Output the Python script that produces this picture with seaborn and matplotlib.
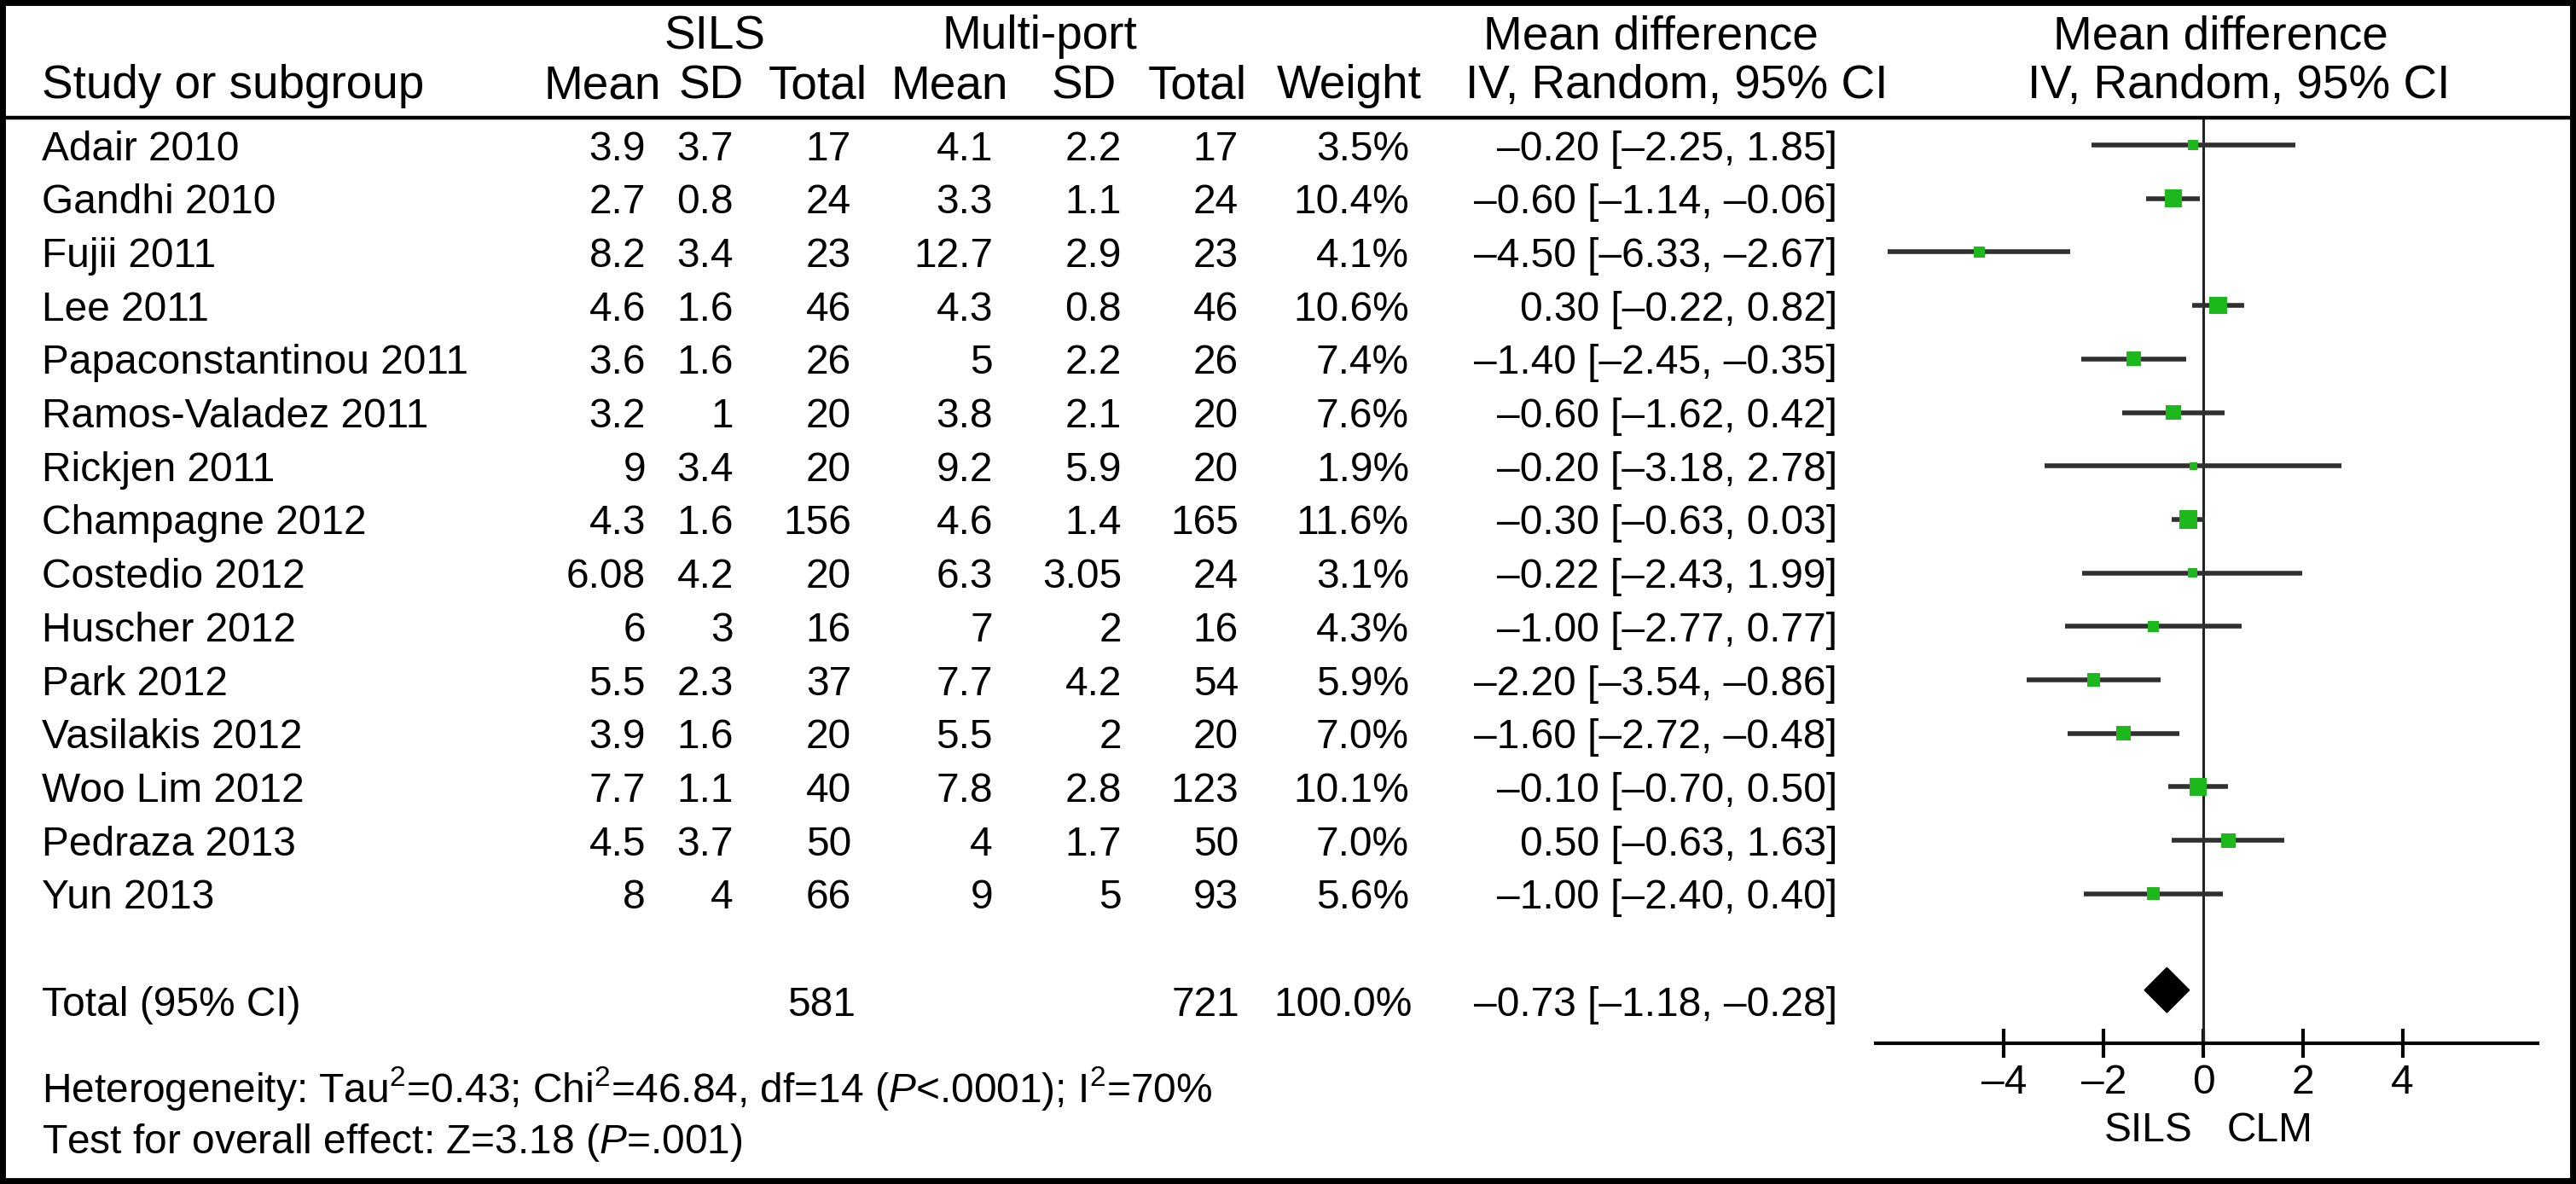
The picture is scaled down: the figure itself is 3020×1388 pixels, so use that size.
import matplotlib
matplotlib.use("Agg")
import matplotlib.pyplot as plt
from matplotlib import transforms
from matplotlib.patches import Rectangle, Polygon
from matplotlib.lines import Line2D
import numpy as np
import pandas as pd
import seaborn as sns

# ---------------- data ----------------
studies = ["Adair 2010", "Gandhi 2010", "Fujii 2011", "Lee 2011",
           "Papaconstantinou 2011", "Ramos-Valadez 2011", "Rickjen 2011",
           "Champagne 2012", "Costedio 2012", "Huscher 2012", "Park 2012",
           "Vasilakis 2012", "Woo Lim 2012", "Pedraza 2013", "Yun 2013"]
sils_mean = [3.9, 2.7, 8.2, 4.6, 3.6, 3.2, 9, 4.3, 6.08, 6, 5.5, 3.9, 7.7, 4.5, 8]
sils_sd = [3.7, 0.8, 3.4, 1.6, 1.6, 1, 3.4, 1.6, 4.2, 3, 2.3, 1.6, 1.1, 3.7, 4]
sils_n = [17, 24, 23, 46, 26, 20, 20, 156, 20, 16, 37, 20, 40, 50, 66]
multi_mean = [4.1, 3.3, 12.7, 4.3, 5, 3.8, 9.2, 4.6, 6.3, 7, 7.7, 5.5, 7.8, 4, 9]
multi_sd = [2.2, 1.1, 2.9, 0.8, 2.2, 2.1, 5.9, 1.4, 3.05, 2, 4.2, 2, 2.8, 1.7, 5]
multi_n = [17, 24, 23, 46, 26, 20, 20, 165, 24, 16, 54, 20, 123, 50, 93]
weight = [3.5, 10.4, 4.1, 10.6, 7.4, 7.6, 1.9, 11.6, 3.1, 4.3, 5.9, 7.0, 10.1, 7.0, 5.6]
md = [-0.20, -0.60, -4.50, 0.30, -1.40, -0.60, -0.20, -0.30, -0.22, -1.00,
      -2.20, -1.60, -0.10, 0.50, -1.00]
ci_lo = [-2.25, -1.14, -6.33, -0.22, -2.45, -1.62, -3.18, -0.63, -2.43, -2.77,
         -3.54, -2.72, -0.70, -0.63, -2.40]
ci_hi = [1.85, -0.06, -2.67, 0.82, -0.35, 0.42, 2.78, 0.03, 1.99, 0.77,
         -0.86, -0.48, 0.50, 1.63, 0.40]
total_sils, total_multi, total_weight = 581, 721, 100.0
total_md, total_lo, total_hi = -0.73, -1.18, -0.28
xticks = [-4, -2, 0, 2, 4]

W, H = 3020, 1388
sns.set_style("white")
plt.rcParams["font.family"] = ["Liberation Sans", "DejaVu Sans"]
plt.rcParams["mathtext.fontset"] = "custom"
plt.rcParams["mathtext.rm"] = "Liberation Sans"
plt.rcParams["mathtext.it"] = "Liberation Sans:italic"
FS = 34.5    # body rows
HFS = 39.5   # column headings
DASH = "\u2013"


def fmt(v):
    return f"{v:.2f}".replace("-", DASH)


df = pd.DataFrame({"study": studies, "md": md, "lo": ci_lo, "hi": ci_hi,
                   "weight": weight, "row": np.arange(len(studies))})

fig = plt.figure(figsize=(W / 100, H / 100), dpi=100)
fig.patch.set_facecolor("white")

# forest axes placed in pixel terms
row0, dy = 170, 62.7
ax_l, ax_r, ax_t, ax_b = 2199, 2975, 138, 1223
ax = fig.add_axes([ax_l / W, 1 - ax_b / H, (ax_r - ax_l) / W, (ax_b - ax_t) / H])
unit = 58.4
zero = 2583
ax.set_xlim((ax_l - zero) / unit, (ax_r - zero) / unit)
ax.set_ylim((ax_b - row0) / dy, (ax_t - row0) / dy)

ax.hlines(df["row"], df["lo"], df["hi"], color="#303030", lw=4.0, zorder=2)
sns.scatterplot(data=df, x="md", y="row", size="weight",
                sizes=(21 * min(weight), 21 * max(weight)), marker="s",
                color="#1cb81c", linewidth=0, legend=False, ax=ax, zorder=3)
ax.axvline(0, color="#222222", lw=2.2, zorder=1)

total_row = 16
yd = total_row - 0.2
ax.add_patch(Polygon([(total_lo, yd), (total_md, yd - 0.42), (total_hi, yd),
                      (total_md, yd + 0.42)], closed=True, color="black", zorder=4))

for s in ["left", "top", "right"]:
    ax.spines[s].set_visible(False)
ax.spines["bottom"].set_linewidth(3)
ax.spines["bottom"].set_color("black")
ax.set_xticks(xticks)
ax.set_xticklabels([str(t).replace("-", DASH) for t in xticks])
ax.tick_params(axis="x", direction="inout", length=24, width=3, labelsize=FS,
               pad=5, colors="black", bottom=True)
ax.set_yticks([])
ax.set_xlabel("")
ax.set_ylabel("")
ax.patch.set_alpha(0)

# table text, rows share the forest y scale
tr = transforms.blended_transform_factory(fig.transFigure, ax.transData)


def put(x, y, s, ha="right"):
    fig.text(x / W, y, s, transform=tr, ha=ha, va="center_baseline",
             fontsize=FS, color="black")


for i in range(len(studies)):
    put(49, i, studies[i], ha="left")
    put(757, i, f"{sils_mean[i]:g}")
    put(860, i, f"{sils_sd[i]:g}")
    put(998, i, f"{sils_n[i]}")
    put(1164, i, f"{multi_mean[i]:g}")
    put(1315, i, f"{multi_sd[i]:g}")
    put(1452, i, f"{multi_n[i]}")
    put(1652, i, f"{weight[i]:.1f}%")
    put(2154, i, f"{fmt(md[i])} [{fmt(ci_lo[i])}, {fmt(ci_hi[i])}]")

put(49, total_row, "Total (95% CI)", ha="left")
put(1003, total_row, f"{total_sils}")
put(1453, total_row, f"{total_multi}")
put(1656, total_row, f"{total_weight:.1f}%")
put(2154, total_row, f"{fmt(total_md)} [{fmt(total_lo)}, {fmt(total_hi)}]")


def ftext(x, y, s, ha="center", size=HFS):
    fig.text(x / W, 1 - y / H, s, ha=ha, va="center_baseline", fontsize=size,
             color="black")


# header
h1, h2 = 37, 95
ftext(838, h1, "SILS")
ftext(1219, h1, "Multi-port")
ftext(1935, h1, "Mean difference")
ftext(2603, h1, "Mean difference")
ftext(49, h2, "Study or subgroup", ha="left")
ftext(775, h2, "Mean", ha="right")
ftext(872, h2, "SD", ha="right")
ftext(1017, h2, "Total", ha="right")
ftext(1182, h2, "Mean", ha="right")
ftext(1309, h2, "SD", ha="right")
ftext(1462, h2, "Total", ha="right")
ftext(1667, h2, "Weight", ha="right")
ftext(1966, h2, "IV, Random, 95% CI")
ftext(2625, h2, "IV, Random, 95% CI")

# footer
ftext(49, 1270, r"Heterogeneity: Tau$^2$=0.43; Chi$^2$=46.84, df=14 ($P$<.0001); I$^2$=70%",
      ha="left", size=FS)
ftext(49, 1333, r"Test for overall effect: Z=3.18 ($P$=.001)", ha="left", size=FS)
ftext(2571, 1320, "SILS", ha="right", size=FS)
ftext(2611, 1320, "CLM", ha="left", size=FS)

fig.add_artist(Line2D([0, 1], [1 - 138 / H, 1 - 138 / H], transform=fig.transFigure,
                      color="black", lw=3.2))
fig.add_artist(Rectangle((0, 0), 1, 1, transform=fig.transFigure, fill=False,
                         edgecolor="black", lw=10))

fig.savefig("out.png", dpi=100, facecolor="white")
